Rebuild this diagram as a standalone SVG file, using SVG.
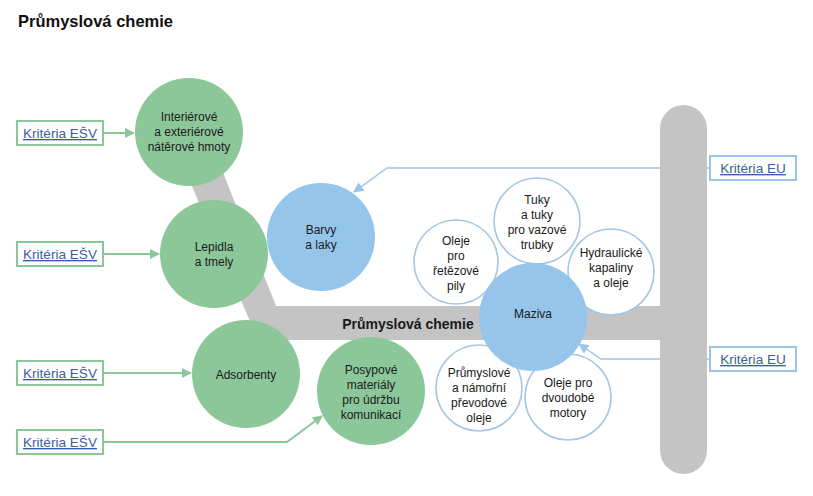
<svg xmlns="http://www.w3.org/2000/svg" width="813" height="496" viewBox="0 0 813 496">
<defs>
<style>
.t{font-family:"Liberation Sans",Arial,sans-serif;font-size:12px;fill:#1a1a1a;text-anchor:middle}
.b{font-weight:bold;font-size:14px}
.g{fill:#8cc79a}
.bl{fill:#95c5eb}
.w{fill:#fff;stroke:#a3c6e6;stroke-width:1.6}
.lk{font-family:"Liberation Sans",Arial,sans-serif;font-size:13.6px;fill:#3d5ea8;text-anchor:middle;text-decoration:underline}
.gb{fill:#fff;stroke:#8cc79a;stroke-width:2}
.eb{fill:#fff;stroke:#9dc3e6;stroke-width:2}
.gc{fill:none;stroke:#8cc79a;stroke-width:2}
.ec{fill:none;stroke:#9dc3e6;stroke-width:1.5}
</style>
<marker id="ag" viewBox="0 0 10 10" refX="9" refY="5" markerWidth="5" markerHeight="5" orient="auto" markerUnits="strokeWidth"><path d="M0,0L10,5L0,10z" fill="#8cc79a"/></marker>
<marker id="ae" viewBox="0 0 10 10" refX="9" refY="5" markerWidth="7" markerHeight="7" orient="auto" markerUnits="strokeWidth"><path d="M0,0L10,5L0,10z" fill="#9dc3e6"/></marker>
</defs>
<rect width="813" height="496" fill="#fff"/>
<text x="18" y="27" font-family="Liberation Sans,Arial,sans-serif" font-size="16.5" font-weight="bold" fill="#111">Průmyslová chemie</text>

<g id="connectors">
<path class="gc" d="M103,133H134" marker-end="url(#ag)"/>
<path class="gc" d="M103,254H159" marker-end="url(#ag)"/>
<path class="gc" d="M103,373H191" marker-end="url(#ag)"/>
<path class="gc" d="M103,442H287L322,416" marker-end="url(#ag)"/>
<path class="ec" d="M710,168H387L354,192" marker-end="url(#ae)"/>
<path class="ec" d="M710,359H601L579,344" marker-end="url(#ae)"/>
</g>

<g id="backbone" fill="#c4c4c4">
<path d="M185,170H222L276,306H690V340H258Z"/>
<rect x="660" y="105" width="47" height="369" rx="23.5"/>
<text class="t b" x="408" y="329">Průmyslová chemie</text>
</g>

<g id="n-interierove"><circle class="g" cx="189" cy="132" r="54"/><text class="t"><tspan x="189" y="121">Interiérové</tspan><tspan x="189" y="136">a exteriérové</tspan><tspan x="189" y="151">nátěrové hmoty</tspan></text></g>
<g id="n-lepidla"><circle class="g" cx="214" cy="254" r="54"/><text class="t"><tspan x="214" y="251">Lepidla</tspan><tspan x="214" y="266">a tmely</tspan></text></g>
<g id="n-adsorbenty"><circle class="g" cx="246" cy="374" r="54"/><text class="t"><tspan x="246" y="379">Adsorbenty</tspan></text></g>
<g id="n-posypove"><circle class="g" cx="371" cy="391" r="54"/><text class="t"><tspan x="371" y="374">Posypové</tspan><tspan x="371" y="389">materiály</tspan><tspan x="371" y="404">pro údržbu</tspan><tspan x="371" y="419">komunikací</tspan></text></g>
<g id="n-barvy"><circle class="bl" cx="321" cy="237" r="54"/><text class="t"><tspan x="321" y="234">Barvy</tspan><tspan x="321" y="249">a laky</tspan></text></g>

<g id="n-retezove"><circle class="w" cx="456" cy="262" r="42"/><text class="t"><tspan x="456" y="245">Oleje</tspan><tspan x="456" y="260">pro</tspan><tspan x="456" y="275">řetězové</tspan><tspan x="456" y="290">pily</tspan></text></g>
<g id="n-tuky"><circle class="w" cx="537" cy="221" r="43"/><text class="t"><tspan x="537" y="204">Tuky</tspan><tspan x="537" y="219">a tuky</tspan><tspan x="537" y="234">pro vazové</tspan><tspan x="537" y="249">trubky</tspan></text></g>
<g id="n-hydraulicke"><circle class="w" cx="611" cy="272" r="43"/><text class="t"><tspan x="611" y="257">Hydraulické</tspan><tspan x="611" y="272">kapaliny</tspan><tspan x="611" y="287">a oleje</tspan></text></g>
<g id="n-prevodove"><circle class="w" cx="479" cy="388" r="43"/><text class="t"><tspan x="479" y="377">Průmyslové</tspan><tspan x="479" y="392">a námořní</tspan><tspan x="479" y="407">převodové</tspan><tspan x="479" y="422">oleje</tspan></text></g>
<g id="n-dvoudobe"><circle class="w" cx="568" cy="397" r="43"/><text class="t"><tspan x="568" y="387">Oleje pro</tspan><tspan x="568" y="402">dvoudobé</tspan><tspan x="568" y="417">motory</tspan></text></g>
<g id="n-maziva"><circle class="bl" cx="533" cy="317" r="54"/><text class="t"><tspan x="533" y="318">Maziva</tspan></text></g>

<g id="k-esv1"><rect class="gb" x="17" y="121" width="86" height="24"/><text class="lk" x="60" y="138">Kritéria EŠV</text></g>
<g id="k-esv2"><rect class="gb" x="17" y="242" width="86" height="24"/><text class="lk" x="60" y="259">Kritéria EŠV</text></g>
<g id="k-esv3"><rect class="gb" x="17" y="361" width="86" height="24"/><text class="lk" x="60" y="378">Kritéria EŠV</text></g>
<g id="k-esv4"><rect class="gb" x="17" y="430" width="86" height="24"/><text class="lk" x="60" y="447">Kritéria EŠV</text></g>
<g id="k-eu1"><rect class="eb" x="710" y="156" width="86" height="24"/><text class="lk" x="753" y="173">Kritéria EU</text></g>
<g id="k-eu2"><rect class="eb" x="710" y="347" width="86" height="24"/><text class="lk" x="753" y="364">Kritéria EU</text></g>
</svg>
